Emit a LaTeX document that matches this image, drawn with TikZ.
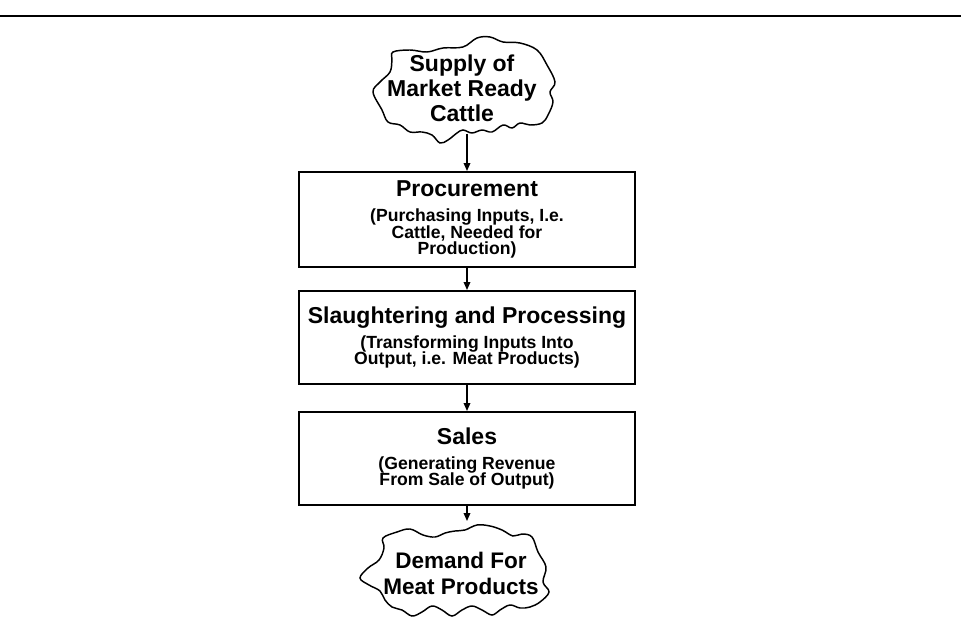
\documentclass[tikz,border=0pt]{standalone}
\usepackage{fontspec}
\setmainfont{Liberation Sans}
\usetikzlibrary{arrows.meta}
% fixed line spacing, no \lineskip fallback
\newcommand\tightlines{\lineskiplimit=-20pt\relax}
\begin{document}
\begin{tikzpicture}[x=0.75pt,y=-0.75pt,
  stage/.style={draw, line width=1.5pt, minimum width=252pt, inner sep=0pt,
    align=center, font=\bfseries\fontsize{13.2}{12.5}\selectfont\tightlines},
  flow/.style={-{Triangle[length=6pt,width=5pt]}, line width=0.9pt},
  blob/.style={line width=1.1pt},
  blobtext/.style={align=center, inner sep=0pt,
    font=\bfseries\fontsize{17.25}{18.75}\selectfont\tightlines}
]
\useasboundingbox (0,0) rectangle (961,635);

% heading rule
\draw[line width=2.2pt] (0,16) -- (961,16);

% supply cloud
\draw[blob] plot[smooth cycle, tension=0.6] coordinates {
  (393,52) (410,50) (427,52) (443,48) (463,47) (477,38) (490,37) (503,42)
  (520,43) (537,50) (547,65) (555,82) (550,92) (553,102) (548,115) (542,123)
  (530,125) (520,123) (512,128) (503,125) (492,132) (482,130) (472,133)
  (463,130) (457,133) (448,140) (440,143) (432,135) (422,132) (410,132)
  (400,125) (388,122) (382,110) (373,92) (380,82) (390,72) (392,60)};
\node[blobtext] (supply) at (462,88) {Supply of\\Market Ready\\Cattle};
\coordinate (supplyout) at (467,134);

% process stages
\node[stage, minimum height=71.25pt] (proc) at (467,219.5)
  {{\fontsize{17.25}{12.5}\selectfont Procurement}\\[6.25pt]
   (Purchasing Inputs, I.e.\\Cattle, Needed for\\Production)};
\node[stage, minimum height=69.75pt] (slaughter) at (467,337.5)
  {{\fontsize{17.25}{12.5}\selectfont Slaughtering and Processing}\\[6.25pt]
   (Transforming Inputs Into\\Output, i.e. Meat Products)};
\node[stage, minimum height=69.75pt] (sales) at (467,458.5)
  {{\fontsize{17.25}{12.5}\selectfont Sales}\\[6.25pt]
   (Generating Revenue\\From Sale of Output)};

% demand cloud
\draw[blob] plot[smooth cycle, tension=0.6] coordinates {
  (383,538) (397,532) (410,529) (423,535) (435,537) (445,533) (455,531)
  (465,530) (477,525) (490,526) (502,530) (513,536) (522,534) (532,537)
  (538,552) (546,567) (543,582) (549,592) (540,602) (530,607) (520,608)
  (510,605) (500,610) (492,615) (482,610) (472,606) (462,610) (452,616)
  (442,610) (432,606) (422,612) (412,616) (402,610) (392,607) (385,600)
  (380,591) (369,585) (360,578) (368,568) (379,560) (384,548)};
\node[blobtext, font=\bfseries\fontsize{16.9}{19.5}\selectfont\tightlines] (demand) at (461,573)
  {Demand For\\Meat Products};
\coordinate (demandin) at (467,521);

% flow arrows
\draw[flow] (supplyout) -- (proc.north);
\draw[flow] (proc.south) -- (slaughter.north);
\draw[flow] (slaughter.south) -- (sales.north);
\draw[flow] (sales.south) -- (demandin);
\end{tikzpicture}
\end{document}
